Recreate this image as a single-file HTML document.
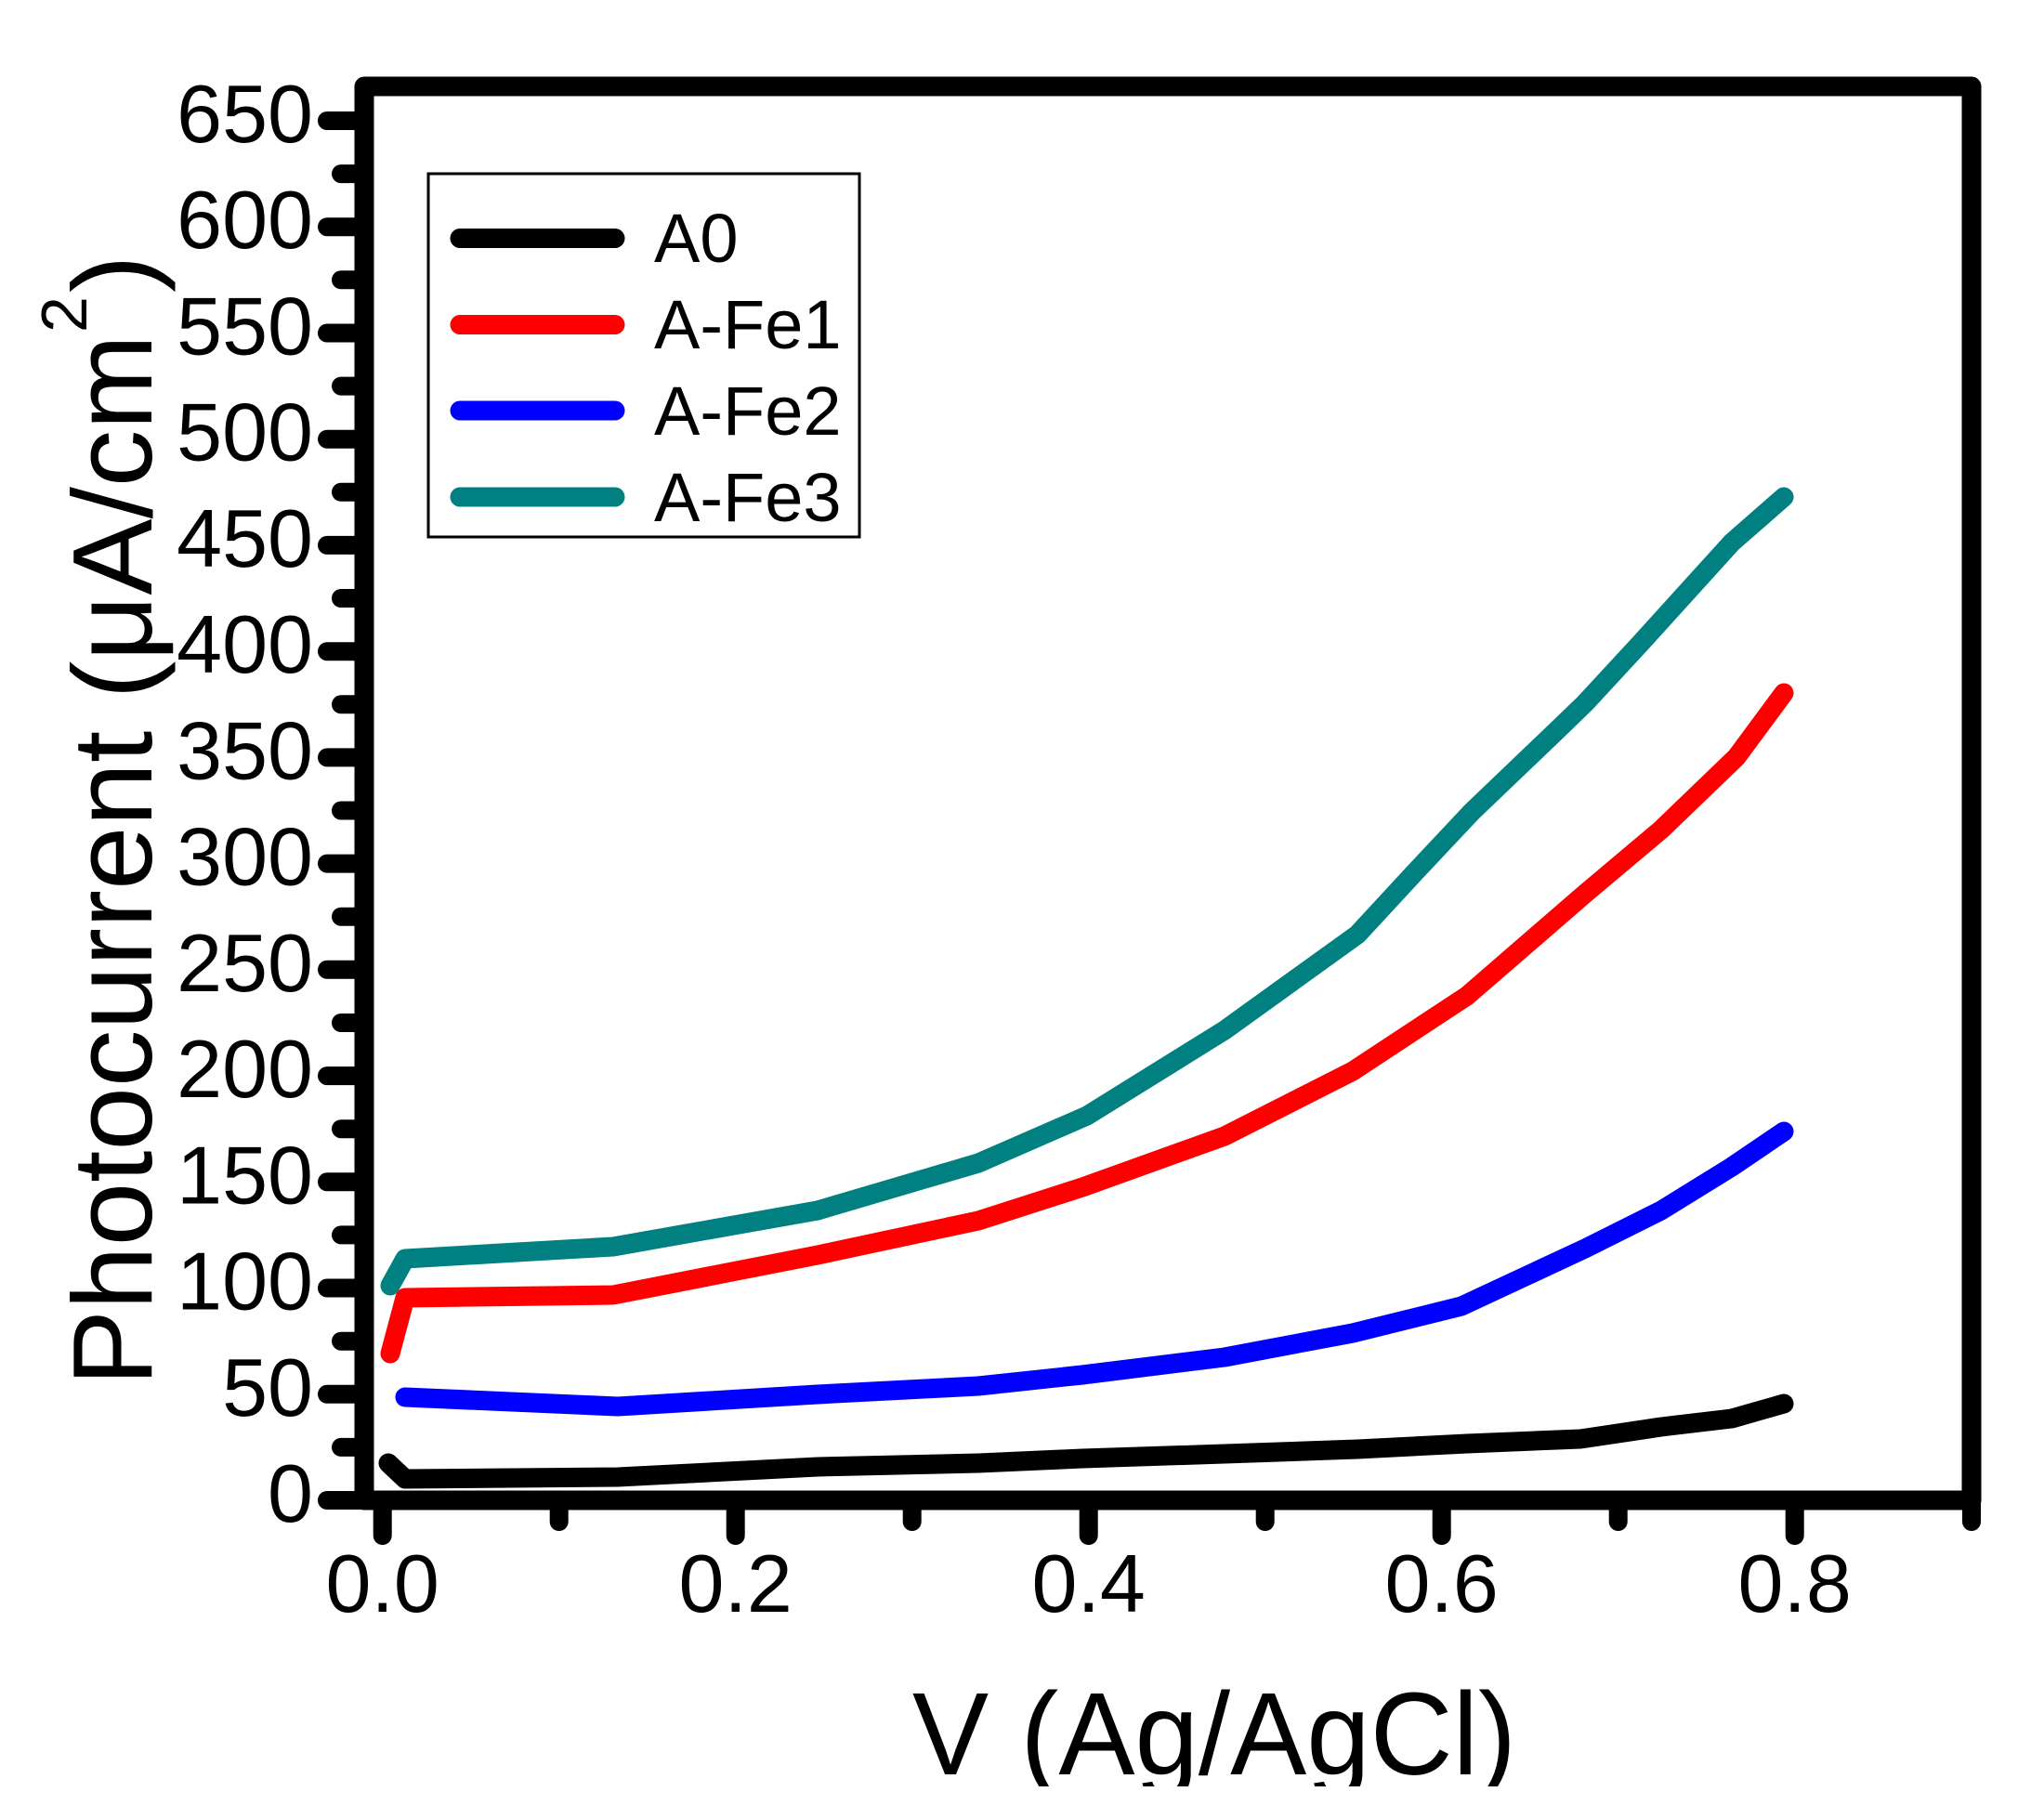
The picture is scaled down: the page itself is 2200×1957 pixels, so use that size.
<!DOCTYPE html>
<html><head><meta charset="utf-8"><style>
html,body{margin:0;padding:0;background:#fff;}
svg{display:block;}
text{font-family:"Liberation Sans",Arial,sans-serif;fill:#000;}
</style></head><body>
<svg width="2200" height="1957" viewBox="0 0 2200 1957" xmlns="http://www.w3.org/2000/svg">
<rect width="2200" height="1957" fill="#fff"/>
<!-- y ticks -->
<g stroke="#000" stroke-width="20" stroke-linecap="round">
<line x1="352" y1="1615" x2="392" y2="1615"/><line x1="352" y1="1500.8" x2="392" y2="1500.8"/>
<line x1="352" y1="1386.5" x2="392" y2="1386.5"/><line x1="352" y1="1272.3" x2="392" y2="1272.3"/>
<line x1="352" y1="1158.1" x2="392" y2="1158.1"/><line x1="352" y1="1043.8" x2="392" y2="1043.8"/>
<line x1="352" y1="929.6" x2="392" y2="929.6"/><line x1="352" y1="815.4" x2="392" y2="815.4"/>
<line x1="352" y1="701.2" x2="392" y2="701.2"/><line x1="352" y1="586.9" x2="392" y2="586.9"/>
<line x1="352" y1="472.7" x2="392" y2="472.7"/><line x1="352" y1="358.5" x2="392" y2="358.5"/>
<line x1="352" y1="244.2" x2="392" y2="244.2"/><line x1="352" y1="130" x2="392" y2="130"/>
<line x1="367" y1="1557.9" x2="392" y2="1557.9"/><line x1="367" y1="1443.7" x2="392" y2="1443.7"/>
<line x1="367" y1="1329.4" x2="392" y2="1329.4"/><line x1="367" y1="1215.2" x2="392" y2="1215.2"/>
<line x1="367" y1="1101" x2="392" y2="1101"/><line x1="367" y1="986.7" x2="392" y2="986.7"/>
<line x1="367" y1="872.5" x2="392" y2="872.5"/><line x1="367" y1="758.3" x2="392" y2="758.3"/>
<line x1="367" y1="644" x2="392" y2="644"/><line x1="367" y1="529.8" x2="392" y2="529.8"/>
<line x1="367" y1="415.6" x2="392" y2="415.6"/><line x1="367" y1="301.3" x2="392" y2="301.3"/>
<line x1="367" y1="187.1" x2="392" y2="187.1"/>
<!-- x ticks -->
<line x1="411.7" y1="1615" x2="411.7" y2="1653"/><line x1="791.7" y1="1615" x2="791.7" y2="1653"/>
<line x1="1171.7" y1="1615" x2="1171.7" y2="1653"/><line x1="1551.7" y1="1615" x2="1551.7" y2="1653"/>
<line x1="1931.7" y1="1615" x2="1931.7" y2="1653"/>
<line x1="601.7" y1="1615" x2="601.7" y2="1638"/><line x1="981.7" y1="1615" x2="981.7" y2="1638"/>
<line x1="1361.7" y1="1615" x2="1361.7" y2="1638"/><line x1="1741.7" y1="1615" x2="1741.7" y2="1638"/>
<line x1="2122" y1="1615" x2="2122" y2="1638"/>
</g>
<rect x="392" y="93" width="1730" height="1522" fill="none" stroke="#000" stroke-width="21" stroke-linejoin="round"/>
<!-- y labels -->
<g font-size="88" text-anchor="end">
<text x="337" y="1638">0</text><text x="337" y="1523.8">50</text><text x="337" y="1409.5">100</text>
<text x="337" y="1295.3">150</text><text x="337" y="1181.1">200</text><text x="337" y="1066.8">250</text>
<text x="337" y="952.6">300</text><text x="337" y="838.4">350</text><text x="337" y="724.2">400</text>
<text x="337" y="609.9">450</text><text x="337" y="495.7">500</text><text x="337" y="381.5">550</text>
<text x="337" y="267.2">600</text><text x="337" y="153">650</text>
</g>
<g font-size="88" text-anchor="middle">
<text x="411.7" y="1735">0.0</text><text x="791.7" y="1735">0.2</text><text x="1171.7" y="1735">0.4</text>
<text x="1551.7" y="1735">0.6</text><text x="1931.7" y="1735">0.8</text>
</g>
<!-- series -->
<g fill="none" stroke-width="21" stroke-linecap="round" stroke-linejoin="round">
<polyline stroke="#000" points="418,1575 436,1592 665,1590 880,1579 1053,1575 1165,1570 1318,1565 1461,1560 1579,1554 1701,1549 1788,1536 1864,1527 1920,1511"/>
<polyline stroke="#0000ff" points="436,1504 665,1514 880,1501 1053,1492 1165,1480 1318,1461 1456,1435 1573,1406 1706,1344 1788,1303 1864,1256 1920,1218"/>
<polyline stroke="#ff0000" points="420,1457 436,1397 660,1394 880,1351 1053,1314 1165,1278 1318,1223 1456,1153 1579,1072 1706,962 1788,893 1869,815 1920,746"/>
<polyline stroke="#008080" points="420,1384 436,1355 660,1342 880,1303 1053,1252 1170,1201 1318,1109 1461,1006 1522,940 1584,874 1676,786 1706,757 1767,691 1864,584 1920,535"/>
</g>
<!-- legend -->
<rect x="461" y="187" width="464" height="391" fill="#fff" stroke="#000" stroke-width="3"/>
<g stroke-width="21" stroke-linecap="round">
<line x1="495" y1="256.5" x2="662" y2="256.5" stroke="#000"/>
<line x1="495" y1="349.5" x2="662" y2="349.5" stroke="#ff0000"/>
<line x1="495" y1="442" x2="662" y2="442" stroke="#0000ff"/>
<line x1="495" y1="535" x2="662" y2="535" stroke="#008080"/>
</g>
<g font-size="74">
<text x="704" y="282">A0</text><text x="704" y="375">A-Fe1</text>
<text x="704" y="468">A-Fe2</text><text x="704" y="561">A-Fe3</text>
</g>
<!-- axis titles -->
<text x="982" y="1910" font-size="126" textLength="650" lengthAdjust="spacingAndGlyphs">V (Ag/AgCl)</text>
<rect x="900" y="1923" width="900" height="34" fill="#fff"/>
<g transform="translate(163,1492) rotate(-90)">
<text x="0" y="0" font-size="122" textLength="1132" lengthAdjust="spacingAndGlyphs">Photocurrent (μA/cm</text>
<text x="1134" y="-70" font-size="70">2</text>
<text x="1177" y="0" font-size="122">)</text>
</g>
</svg>
</body></html>
